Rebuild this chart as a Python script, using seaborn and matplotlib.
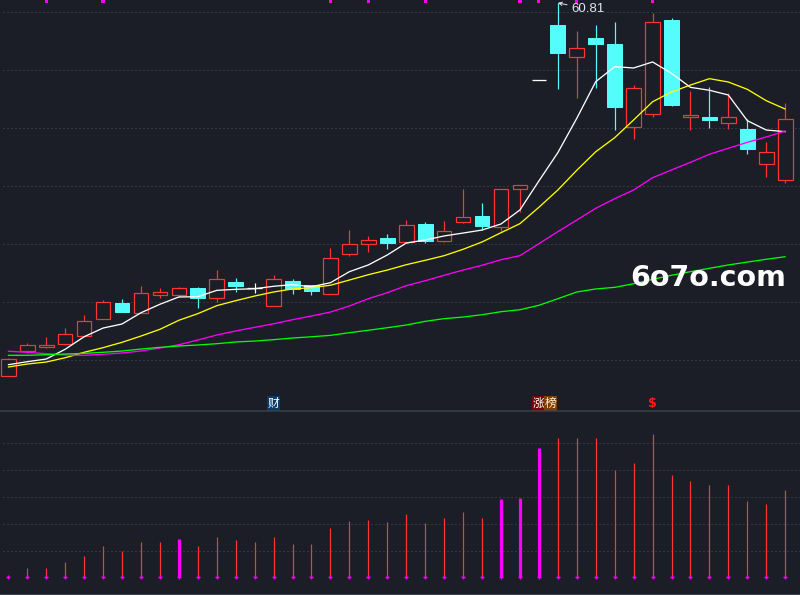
import numpy as np
import pandas as pd
import matplotlib
matplotlib.use("Agg")
import matplotlib.pyplot as plt
import seaborn as sns

BG = "#1b1e26"
UP = "#ff3434"
DOWN = "#54fcfc"
GRID = "#4a4e58"
SEP = "#3c404a"

# daily candles (price, yuan)
open_ = [28.67, 30.83, 31.15, 31.43, 32.12, 33.59, 34.94, 34.10, 35.66, 35.66,
         36.23, 35.40, 36.75, 36.23, 34.71, 36.84, 36.49, 35.74, 39.19, 40.00,
         40.54, 40.17, 41.75, 40.26, 41.90, 42.44, 41.47, 44.74, 54.13, 58.90,
         56.12, 57.78, 57.27, 50.09, 51.21, 59.34, 51.00, 50.97, 50.48, 49.94,
         46.95, 45.52]
high = [30.20, 31.49, 32.01, 32.78, 33.91, 35.22, 35.28, 36.41, 36.23, 36.32,
        36.32, 37.78, 37.09, 36.66, 37.35, 37.01, 36.49, 39.66, 41.23, 40.72,
        40.89, 42.09, 41.92, 42.01, 44.77, 43.56, 44.80, 45.11, 54.13, 60.81,
        58.39, 58.90, 59.16, 53.73, 59.94, 59.51, 53.24, 53.59, 53.07, 50.83,
        48.82, 52.18]
low = [28.65, 30.60, 31.09, 31.36, 32.03, 33.52, 34.19, 34.08, 35.40, 35.48,
       34.51, 35.05, 35.91, 35.83, 34.68, 35.74, 35.66, 35.72, 39.02, 39.36,
       39.62, 40.11, 40.11, 40.24, 41.84, 41.26, 41.12, 42.81, 54.13, 53.41,
       52.64, 53.50, 49.88, 49.05, 51.00, 51.95, 49.88, 50.05, 49.97, 47.81,
       45.83, 45.31]
close = [30.11, 31.32, 31.29, 32.24, 33.36, 35.00, 34.19, 35.78, 35.86, 36.21,
         35.40, 36.98, 36.43, 36.23, 36.98, 36.12, 36.00, 38.79, 40.00, 40.34,
         40.14, 41.66, 40.26, 41.12, 42.35, 41.55, 44.77, 45.11, 54.13, 56.52,
         56.90, 57.29, 51.86, 53.47, 59.14, 52.03, 51.15, 50.72, 50.95, 48.24,
         47.93, 50.80]

# moving averages
ma5 = [29.62, 29.88, 30.11, 30.95, 32.03, 32.78, 33.13, 34.10, 34.83, 35.46,
       35.48, 36.03, 36.12, 36.17, 36.38, 36.52, 36.34, 36.69, 37.64, 38.22,
       39.08, 40.11, 40.37, 40.72, 40.97, 41.23, 41.75, 42.96, 45.46, 47.90,
       50.86, 54.02, 55.31, 55.20, 55.72, 54.74, 53.53, 53.28, 52.87, 50.66,
       49.85, 49.71]
ma10 = [29.42, 29.68, 29.85, 30.22, 30.69, 31.09, 31.55, 32.09, 32.67, 33.45,
        34.02, 34.71, 35.14, 35.54, 35.89, 36.15, 36.26, 36.47, 36.92, 37.38,
        37.78, 38.24, 38.62, 39.02, 39.57, 40.20, 41.00, 41.78, 43.19, 44.68,
        46.38, 47.98, 49.19, 50.72, 52.29, 53.13, 53.73, 54.28, 53.99, 53.36,
        52.38, 51.66]
ma20 = [30.78, 30.69, 30.57, 30.46, 30.43, 30.52, 30.63, 30.80, 31.06, 31.34,
        31.75, 32.18, 32.53, 32.84, 33.15, 33.50, 33.82, 34.16, 34.68, 35.31,
        35.83, 36.43, 36.86, 37.33, 37.78, 38.19, 38.67, 39.02, 40.05, 41.09,
        42.09, 43.10, 43.93, 44.68, 45.74, 46.41, 47.07, 47.76, 48.28, 48.79,
        49.25, 49.77]
ma60 = [30.43, 30.43, 30.48, 30.54, 30.60, 30.69, 30.80, 30.97, 31.12, 31.23,
        31.32, 31.43, 31.58, 31.66, 31.78, 31.92, 32.03, 32.15, 32.38, 32.59,
        32.81, 33.04, 33.36, 33.59, 33.73, 33.93, 34.19, 34.36, 34.74, 35.31,
        35.89, 36.15, 36.29, 36.60, 36.98, 37.33, 37.64, 37.93, 38.22, 38.47,
        38.71, 38.93]

# volume (lots)
volume = [400, 3500, 3500, 5700, 7900, 11700, 9800, 13200, 13200, 14400,
          11700, 15000, 13900, 13200, 15000, 12400, 12400, 18400, 21000, 21400,
          20600, 23600, 20300, 22100, 24400, 22100, 29400, 29700, 48400, 52000,
          52000, 52000, 40000, 42600, 53500, 38200, 35900, 34400, 34400, 28500,
          27400, 32600]
hot_days = [9, 26, 27, 28]
signal_days = [2, 5, 17, 19, 22, 27, 28, 30, 34]
events = [(14, "财", "#0b3a66", "white"),
          (28, "涨", "#7a0606", "white"),
          (28.62, "榜", "#7a3f06", "#fff0d0")]
dollar_day = 34
high_label = "60.81"

n = len(close)
df = pd.DataFrame({"day": np.arange(n), "open": open_, "high": high,
                   "low": low, "close": close, "volume": volume})

PX = 1 / 100 * 72  # one pixel in points
PRICE_TOP, PRICE_BOTTOM = 61.06, 25.63
VOL_TOP, VOL_BOTTOM = 62050, -6600
W = 0.775

sns.set_theme(style="dark", rc={"axes.facecolor": BG, "figure.facecolor": BG,
                                "savefig.facecolor": BG})
plt.rcParams["font.family"] = ["DejaVu Sans", "Noto Sans CJK SC"]

fig = plt.figure(figsize=(8, 5.95), dpi=100)
ax = fig.add_axes([0, 184 / 595, 1, 411 / 595])
axv = fig.add_axes([0, 0, 1, 184 / 595])

for a in (ax, axv):
    a.set_xlim(-0.438, 41.78)
    a.set_facecolor(BG)
    a.tick_params(left=False, bottom=False, labelleft=False, labelbottom=False)
    a.grid(False)
    for s in a.spines.values():
        s.set_visible(False)

# price gridlines
ax.set_ylim(PRICE_BOTTOM, PRICE_TOP)
for g in [60, 55, 50, 45, 40, 35, 30]:
    ax.axhline(g, xmin=0.004, color=GRID, lw=1 * PX, ls=(0, (1, 3)), zorder=0)

# candles
for r in df.itertuples():
    if r.close > r.open:
        c = UP
        ax.bar(r.day, r.close - r.open, bottom=r.open, width=W, facecolor=BG,
               edgecolor=c, linewidth=1.2 * PX, zorder=2)
    elif r.close < r.open:
        c = DOWN
        ax.bar(r.day, r.open - r.close, bottom=r.close, width=W, facecolor=c,
               edgecolor=c, linewidth=1 * PX, zorder=2)
    else:
        c = "white"
        ax.hlines(r.open, r.day - W / 2, r.day + W / 2, color=c, lw=1.3 * PX, zorder=2)
    lo, hi = min(r.open, r.close), max(r.open, r.close)
    ax.vlines(r.day, r.low, lo, color=c, lw=1.2 * PX, zorder=2)
    ax.vlines(r.day, hi, r.high, color=c, lw=1.2 * PX, zorder=2)

# moving averages
ma = pd.DataFrame({"day": np.arange(n), "MA5": ma5, "MA10": ma10,
                   "MA20": ma20, "MA60": ma60})
ma_long = ma.melt(id_vars="day", var_name="line", value_name="price")
sns.lineplot(data=ma_long, x="day", y="price", hue="line", ax=ax,
             palette={"MA5": "#ffffff", "MA10": "#ffff00",
                      "MA20": "#ff00ff", "MA60": "#00ff00"},
             linewidth=1.3 * PX, legend=False, zorder=3)
ax.set_xlabel("")
ax.set_ylabel("")

# signal ticks on top edge
ax.bar(signal_days, 0.27, bottom=PRICE_TOP - 0.27, width=0.17,
       color="#ff00ff", edgecolor="none", linewidth=0, zorder=4)

# high label
hi_day = int(np.argmax(high))
ax.annotate(high_label, xy=(hi_day, high[hi_day]), xytext=(10, -4.5),
            textcoords="offset points", ha="left", va="center",
            fontsize=9.5, color="#dde6f2", family="Liberation Sans",
            arrowprops=dict(arrowstyle="->", color="#dde6f2", lw=0.7,
                            shrinkA=1, shrinkB=0, mutation_scale=6))

# event tags along the bottom of the price panel
for day, txt, bg, fg in events:
    ax.text(day, 26.28, txt, ha="center", va="center", fontsize=8.5,
            color=fg, family=["Noto Sans CJK SC", "DejaVu Sans"],
            bbox=dict(boxstyle="square,pad=0.05", facecolor=bg, edgecolor="none"),
            zorder=5)
ax.text(dollar_day, 26.3, "$", ha="center", va="center", fontsize=9,
        color="#ff1a1a", fontweight="bold", zorder=5)

# watermark
ax.text(630 / 800, 1 - 286 / 411, "6o7o.com", transform=ax.transAxes,
        ha="left", va="baseline", fontsize=20.5, color="white",
        fontweight="bold", zorder=6)

# volume panel
axv.set_ylim(VOL_BOTTOM, VOL_TOP)
for g in [10000, 20000, 30000, 40000, 50000]:
    axv.axhline(g, xmin=0.004, color=GRID, lw=1 * PX, ls=(0, (1, 3)), zorder=0)
vcol = ["#ff00ff" if d in hot_days else UP for d in df.day]
vlw = [3.2 * PX if d in hot_days else 1.2 * PX for d in df.day]
axv.vlines(df.day, 0, df.volume, colors=vcol, linewidths=vlw, zorder=2)
sns.scatterplot(x=df.day, y=np.zeros(n), ax=axv, marker="+", s=8,
                color="#ff00ff", linewidth=1.0, zorder=3, legend=False)
axv.set_xlabel("")
axv.set_ylabel("")
axv.spines["top"].set_visible(True)
axv.spines["top"].set_color(SEP)
axv.spines["top"].set_linewidth(1.5 * PX)
axv.spines["bottom"].set_visible(True)
axv.spines["bottom"].set_color(SEP)
axv.spines["bottom"].set_linewidth(2 * PX)

fig.savefig("out.png", dpi=100, facecolor=BG)
